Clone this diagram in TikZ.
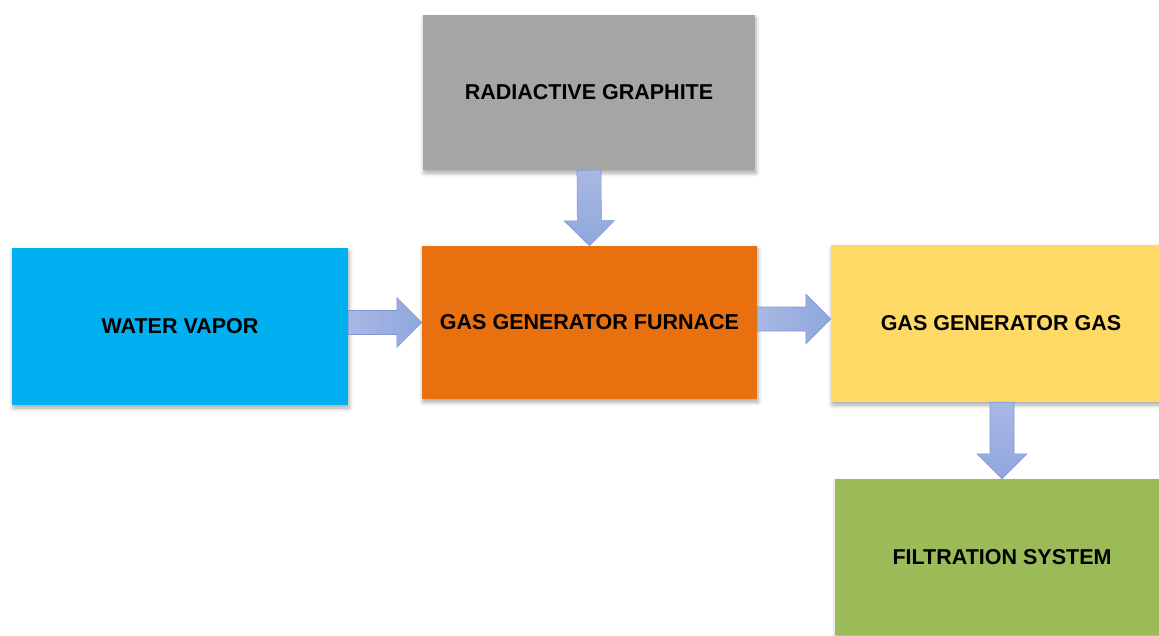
\documentclass[tikz,border=0pt]{standalone}
\usepackage{fontspec}
\setmainfont{Liberation Sans}
\usetikzlibrary{calc,shadows.blur}

\definecolor{graphitegray}{HTML}{A5A5A5}
\definecolor{vaporblue}{HTML}{00B0F0}
\definecolor{furnaceorange}{HTML}{E8700E}
\definecolor{gasyellow}{HTML}{FFD966}
\definecolor{filtergreen}{HTML}{9BBB59}
\definecolor{arrowlight}{HTML}{A8B8E3}
\definecolor{arrowdark}{HTML}{8FA7DD}
\definecolor{arrowedge}{HTML}{7F98D4}

% block arrow geometry
\newcommand\shafthalf{12pt}
\newcommand\headhalf{25pt}
\newcommand\headlen{25pt}

% \blockarrow[shading options]{tail}{tip}
\newcommand\blockarrow[3][]{%
  \coordinate (ba-s) at (#2);
  \coordinate (ba-t) at (#3);
  \coordinate (ba-h) at ($(ba-t)!\headlen!(ba-s)$);
  \draw[flowarrow,#1]
    ($(ba-s)!\shafthalf!90:(ba-t)$) --
    ($(ba-h)!\shafthalf!-90:(ba-s)$) --
    ($(ba-h)!\headhalf!-90:(ba-s)$) --
    (ba-t) --
    ($(ba-h)!\headhalf!90:(ba-s)$) --
    ($(ba-h)!\shafthalf!90:(ba-s)$) --
    ($(ba-s)!\shafthalf!-90:(ba-t)$) -- cycle;
}

\tikzset{
  stage/.style={rectangle, inner sep=0pt, font=\fontsize{21.5}{25}\selectfont\bfseries,
    text=black,
    blur shadow={shadow xshift=1pt, shadow yshift=-3pt, shadow blur radius=4pt, shadow opacity=35}},
  flowarrow/.style={draw=arrowedge, line width=0.6pt, line join=miter},
  hflow/.style={left color=arrowlight, right color=arrowdark},
  vflow/.style={top color=arrowlight, bottom color=arrowdark},
}

\begin{document}
\begin{tikzpicture}[x=1pt,y=-1pt]
\useasboundingbox (0,0) rectangle (1159,635);
\clip (0,0) rectangle (1159,635);

\node[stage, fill=graphitegray, minimum width=332pt, minimum height=155pt] (gra) at (589,92.5) {RADIACTIVE GRAPHITE};
\node[stage, fill=vaporblue, minimum width=336pt, minimum height=157pt] (wv) at (180,326.5) {WATER VAPOR};
\node[stage, fill=furnaceorange, minimum width=335pt, minimum height=153pt] (fur) at (589.5,322.5) {GAS GENERATOR FURNACE};
\node[stage, fill=gasyellow, minimum width=342pt, minimum height=157pt] (gas) at (1002,323.5) {\hspace*{-2pt}GAS GENERATOR GAS};
\node[stage, fill=filtergreen, minimum width=334pt, minimum height=156pt] (fil) at (1002,557) {FILTRATION SYSTEM};

\blockarrow[vflow]{gra.south}{fur.north}
\blockarrow[hflow]{wv.east |- fur.west}{fur.west}
\blockarrow[hflow]{[yshift=3.5pt]fur.east}{[yshift=3.5pt]fur.east -| gas.west}
\blockarrow[vflow]{gas.south}{fil.north}
\end{tikzpicture}
\end{document}
